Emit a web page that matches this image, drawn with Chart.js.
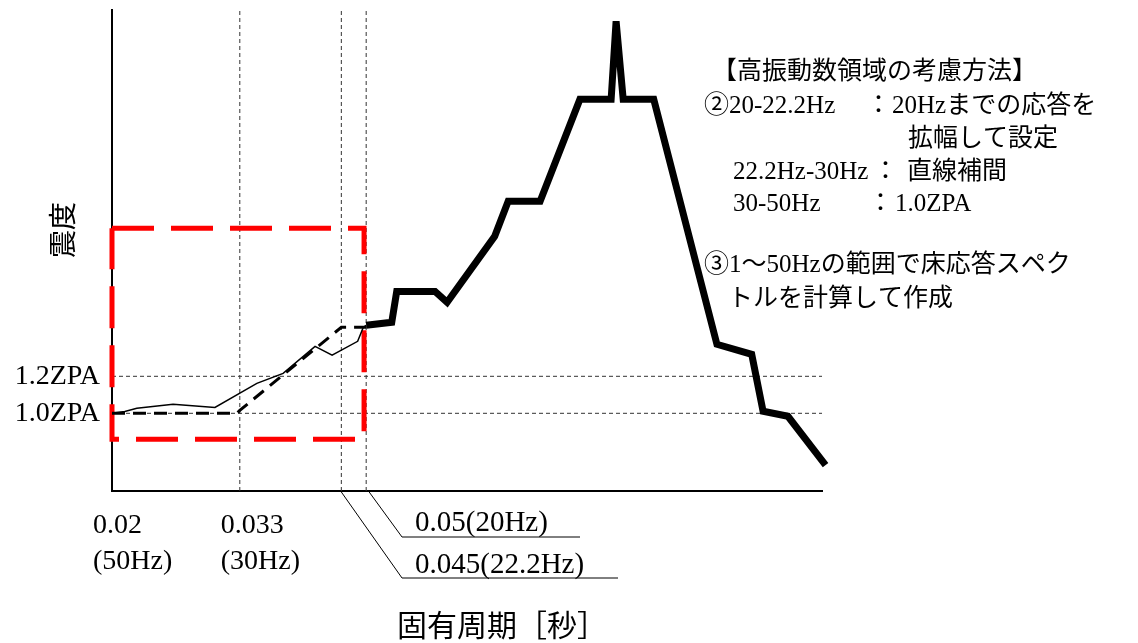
<!DOCTYPE html>
<html>
<head>
<meta charset="utf-8">
<script src="https://cdn.jsdelivr.net/npm/chart.js@4"></script>
<style>
  body { margin: 0; background: #fff; }
  #wrap { width: 1138px; height: 643px; }
</style>
</head>
<body>
<div id="wrap"><canvas id="spec"></canvas></div>
<script>
// x is a schematic period position: 0 = 0.02s (left axis), 100 = right end of axis
const tickPos = [0, 18];
const tickLabels = [["0.02", "(50Hz)"], ["0.033", "(30Hz)"]];
const guidePeriods = [18, 32.3, 35.8];     // 0.033s, 0.045s, 0.05s
const guideLevels = [1.0, 1.2];            // ZPA
const levelLabels = ["1.0ZPA", "1.2ZPA"];

// floor response spectrum (thick line)
const specX = [35.8, 39.4, 40.1, 45.5, 47.2, 53.9, 55.8, 60.3, 65.9, 70.3, 71.0, 72.0, 76.3, 85.2, 90.1, 91.7, 95.2, 100.5];
const specY = [1.476, 1.492, 1.659, 1.659, 1.600, 1.957, 2.146, 2.146, 2.697, 2.697, 3.119, 2.697, 2.697, 1.373, 1.319, 1.011, 0.984, 0.72];

// calculated response up to 50Hz (thin line)
const rawX = [0, 1.8, 3.5, 8.6, 14.5, 20.4, 24.1, 28.6, 31.0, 34.6, 35.4, 35.8];
const rawY = [1.0, 1.01, 1.027, 1.049, 1.032, 1.162, 1.216, 1.362, 1.314, 1.389, 1.465, 1.476];

// high frequency treatment (dashed line)
const setX = [0, 17.6, 18, 32.3, 35.8];
const setY = [1.0, 1.0, 1.016, 1.465, 1.465];

// region box (red dashed)
const boxX = [0, 35.5, 35.5, 0, 0];
const boxY = [2.0, 2.0, 0.86, 0.86, 2.0];

const serif = '"Liberation Serif", "Noto Sans CJK JP", serif';
Chart.defaults.color = "#000";

const pts = (xs, ys) => xs.map((x, i) => ({ x: x, y: ys[i] }));

const guideSets = [];
guidePeriods.forEach(p => guideSets.push({
  data: [{ x: p, y: 0.58 }, { x: p, y: 3.18 }],
  borderColor: "#333", borderWidth: 1, borderDash: [4, 3]
}));
guideLevels.forEach(v => guideSets.push({
  data: [{ x: 0, y: v }, { x: 100, y: v }],
  borderColor: "#333", borderWidth: 1, borderDash: [4, 3]
}));

const noPad = s => { s.paddingTop = 0; s.paddingBottom = 0; s.paddingLeft = 0; s.paddingRight = 0; };

// text drawn on top: notes, axis titles, leader lines
const notes = {
  id: "notes",
  afterDraw(chart) {
    const ctx = chart.ctx;
    const xs = chart.scales.x;
    const yb = chart.chartArea.bottom;
    ctx.save();
    ctx.fillStyle = "#000";
    ctx.strokeStyle = "#000";
    ctx.lineWidth = 1;
    // leader lines for 0.045 and 0.05
    ctx.beginPath();
    ctx.moveTo(xs.getPixelForValue(guidePeriods[1]), yb + 1);
    ctx.lineTo(402, 578);
    ctx.lineTo(618, 578);
    ctx.moveTo(xs.getPixelForValue(guidePeriods[2]) + 3, yb + 1);
    ctx.lineTo(402, 537);
    ctx.lineTo(580, 537);
    ctx.stroke();

    ctx.font = "29px " + serif;
    ctx.textBaseline = "alphabetic";
    ctx.textAlign = "left";
    ctx.fillText("0.05(20Hz)", 415, 531);
    ctx.fillText("0.045(22.2Hz)", 415, 573);

    // axis titles
    ctx.font = "30px " + serif;
    ctx.textAlign = "center";
    ctx.textBaseline = "middle";
    ctx.fillText("固有周期［秒］", 502, 628);
    ctx.save();
    ctx.translate(66, 230);
    ctx.rotate(-Math.PI / 2);
    ctx.font = "28px " + serif;
    ctx.fillText("震度", 0, 0);
    ctx.restore();

    // method notes
    ctx.font = "25px " + serif;
    ctx.textAlign = "left";
    const lines = [
      ["【高振動数領域の考慮方法】", 712, 72],
      ["②20-22.2Hz", 704, 106],
      ["：", 866, 106],
      ["20Hzまでの応答を", 892, 106],
      ["拡幅して設定", 908, 139],
      ["22.2Hz-30Hz", 733, 172],
      ["：", 873, 172],
      ["直線補間", 907, 172],
      ["30-50Hz", 733, 204],
      ["：", 868, 204],
      ["1.0ZPA", 895, 204],
      ["③1～50Hzの範囲で床応答スペク", 704, 265],
      ["トルを計算して作成", 728, 299]
    ];
    lines.forEach(l => ctx.fillText(l[0], l[1], l[2]));
    ctx.restore();
  }
};

new Chart(document.getElementById("spec"), {
  type: "line",
  data: {
    datasets: [
      { data: pts(specX, specY), borderColor: "#000", borderWidth: 7, borderJoinStyle: "miter", clip: false },
      { data: pts(rawX, rawY), borderColor: "#000", borderWidth: 1.5 },
      { data: pts(setX, setY), borderColor: "#000", borderWidth: 3, borderDash: [13, 8] },
      { data: pts(boxX, boxY), borderColor: "#ff0000", borderWidth: 5, borderDash: [42, 17], clip: false }
    ].concat(guideSets)
  },
  options: {
    responsive: true,
    maintainAspectRatio: false,
    animation: false,
    devicePixelRatio: 1,
    layout: { padding: { top: 10, right: 316, left: 0, bottom: 0 } },
    elements: { point: { radius: 0 }, line: { tension: 0, fill: false } },
    plugins: { legend: { display: false }, tooltip: { enabled: false } },
    scales: {
      x: {
        type: "linear",
        min: 0,
        max: 100,
        grid: { display: false, drawTicks: false },
        border: { display: true, color: "#000", width: 2 },
        afterBuildTicks: s => { s.ticks = tickPos.map(v => ({ value: v })); },
        afterFit: s => { s.height = 152; noPad(s); },
        ticks: {
          align: "start",
          labelOffset: -19,
          padding: 16,
          maxRotation: 0,
          autoSkip: false,
          font: { family: serif, size: 28, lineHeight: 1.3 },
          callback: v => tickLabels[tickPos.indexOf(v)]
        }
      },
      y: {
        min: 0.58,
        max: 3.18,
        grid: { display: false, drawTicks: false },
        border: { display: true, color: "#000", width: 2 },
        afterBuildTicks: s => { s.ticks = guideLevels.map(v => ({ value: v })); },
        afterFit: s => { s.width = 112; noPad(s); },
        ticks: {
          padding: 12,
          autoSkip: false,
          font: { family: serif, size: 28 },
          callback: v => levelLabels[guideLevels.indexOf(v)]
        }
      }
    }
  },
  plugins: [notes]
});
</script>
</body>
</html>
